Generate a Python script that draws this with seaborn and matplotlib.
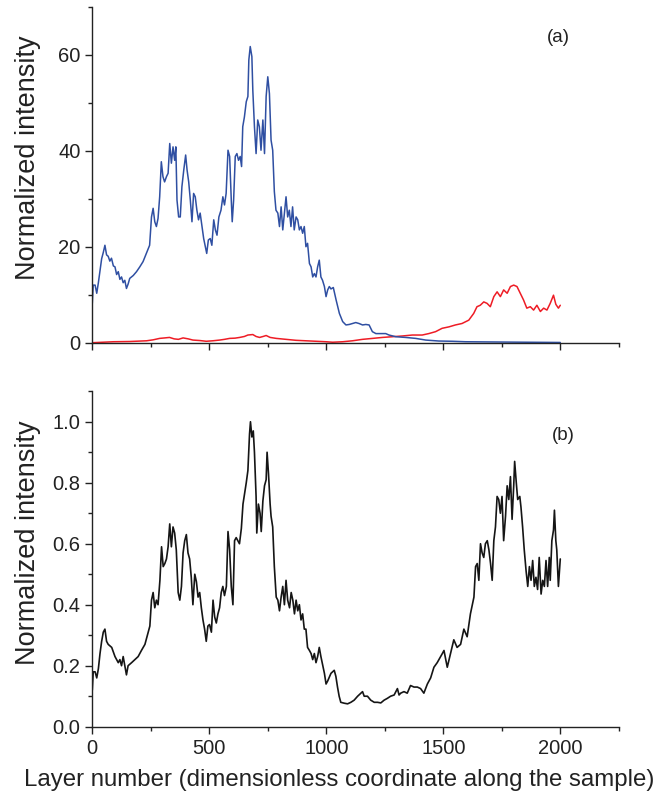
import numpy as np
import pandas as pd
import matplotlib
matplotlib.use("Agg")
import matplotlib.pyplot as plt
from matplotlib.ticker import MultipleLocator, FormatStrFormatter
import seaborn as sns

# ---------------- data ----------------
blue_layer = [0, 4, 12, 19, 26, 33, 40, 47, 54, 61, 68, 75, 82, 90, 97, 104, 111, 118, 125, 132,
              139, 146, 153, 160, 175, 189, 203, 217, 231, 245, 253, 260, 267, 274, 281, 288, 295,
              302, 309, 317, 324, 331, 338, 345, 352, 357, 362, 369, 376, 383, 391, 399, 405, 412,
              419, 426, 433, 440, 447, 454, 461, 469, 476, 483, 489, 496, 504, 511, 519, 526, 533,
              541, 550, 558, 565, 572, 580, 587, 594, 598, 604, 611, 618, 625, 632, 638, 643, 650,
              658, 665, 669, 675, 682, 686, 693, 700, 707, 714, 721, 729, 736, 743, 750, 757, 764,
              771, 778, 785, 793, 800, 807, 814, 821, 828, 835, 842, 849, 856, 863, 871, 878, 885,
              892, 899, 906, 913, 920, 928, 935, 942, 949, 956, 963, 970, 977, 984, 992, 999, 1006,
              1013, 1020, 1030, 1042, 1056, 1070, 1084, 1098, 1112, 1126, 1140, 1155, 1169, 1183,
              1197, 1212, 1226, 1254, 1268, 1297, 1339, 1382, 1425, 1481, 1538, 1595, 1700, 1800,
              1900, 2000]
blue_value = [8.2, 12.0, 12.0, 10.3, 12.5, 15.0, 17.5, 18.8, 20.3, 18.3, 18.0, 17.0, 17.6, 16.0,
              15.8, 14.2, 14.8, 13.2, 13.7, 12.5, 13.0, 11.3, 12.2, 13.4, 14.0, 14.8, 15.8, 16.9,
              18.6, 20.3, 26.2, 28.0, 25.2, 24.2, 25.9, 30.4, 37.7, 34.6, 33.5, 34.6, 35.3, 41.5,
              37.4, 40.8, 38.0, 40.8, 29.7, 26.2, 26.2, 32.5, 36.0, 39.1, 36.0, 33.5, 29.7, 25.2,
              31.1, 30.4, 27.6, 25.6, 27.0, 24.2, 21.7, 20.0, 18.6, 21.4, 21.7, 20.3, 25.6, 23.5,
              22.4, 26.2, 27.6, 30.4, 28.7, 31.1, 40.1, 38.8, 29.7, 25.2, 29.7, 38.8, 39.4, 38.0,
              38.8, 36.7, 45.0, 47.0, 50.2, 51.3, 58.9, 61.7, 59.6, 52.6, 45.0, 39.4, 46.4, 45.0,
              40.1, 46.4, 39.4, 51.3, 55.4, 51.9, 42.2, 40.1, 31.5, 27.6, 27.0, 24.2, 28.3, 23.5,
              27.0, 30.4, 26.2, 27.6, 24.2, 28.3, 23.5, 26.2, 25.6, 23.5, 24.2, 22.8, 24.2, 20.0,
              20.7, 16.5, 15.8, 13.7, 14.4, 13.7, 15.8, 17.2, 13.7, 13.0, 11.7, 9.6, 11.0, 11.7,
              11.2, 11.5, 8.9, 6.1, 4.4, 3.7, 3.8, 4.0, 4.2, 4.0, 3.7, 3.8, 3.7, 2.3, 1.9, 1.9, 1.9,
              1.6, 1.25, 1.1, 0.9, 0.55, 0.35, 0.3, 0.2, 0.15, 0.12, 0.08, 0.05]

red_layer = [0, 45, 90, 160, 232, 260, 288, 310, 330, 350, 368, 388, 410, 430, 460, 487, 515, 544,
             565, 587, 610, 630, 650, 665, 686, 700, 715, 730, 743, 760, 786, 828, 870, 913, 956,
             999, 1027, 1070, 1112, 1155, 1198, 1240, 1283, 1325, 1368, 1410, 1438, 1467, 1495,
             1524, 1552, 1580, 1609, 1630, 1644, 1658, 1673, 1687, 1701, 1716, 1730, 1744, 1758,
             1773, 1787, 1801, 1815, 1829, 1843, 1857, 1872, 1886, 1900, 1915, 1929, 1943, 1957,
             1971, 1981, 1992, 2000]
red_value = [0.0, 0.1, 0.2, 0.25, 0.4, 0.6, 0.9, 1.0, 1.1, 0.8, 0.7, 1.0, 0.8, 0.55, 0.45, 0.3,
             0.4, 0.55, 0.7, 0.9, 0.95, 1.1, 1.3, 1.6, 1.7, 1.3, 1.1, 1.3, 1.5, 1.1, 0.9, 0.7, 0.5,
             0.4, 0.3, 0.2, 0.1, 0.2, 0.4, 0.7, 0.9, 1.1, 1.25, 1.4, 1.6, 1.6, 1.9, 2.3, 3.0, 3.3,
             3.7, 4.0, 4.7, 6.1, 7.5, 7.8, 8.5, 8.2, 7.5, 9.6, 10.6, 9.6, 11.0, 10.3, 11.7, 12.0,
             11.7, 10.3, 8.9, 7.2, 7.5, 6.8, 7.8, 6.5, 7.2, 6.8, 8.2, 9.9, 8.0, 7.2, 7.8]

black_layer = [0, 4, 12, 19, 26, 33, 40, 47, 54, 61, 68, 83, 97, 111, 118, 125, 132, 139, 146, 153,
               168, 182, 196, 210, 225, 239, 246, 253, 260, 267, 274, 281, 289, 296, 303, 310, 317,
               324, 331, 338, 345, 352, 359, 367, 374, 381, 388, 395, 402, 409, 416, 423, 430, 438,
               445, 452, 459, 466, 473, 480, 487, 494, 501, 509, 516, 523, 530, 537, 544, 551, 558,
               565, 573, 580, 587, 594, 601, 608, 615, 622, 629, 637, 644, 651, 658, 665, 672, 676,
               682, 688, 693, 700, 703, 710, 717, 722, 729, 736, 743, 747, 753, 760, 764, 771, 778,
               786, 793, 800, 807, 814, 821, 828, 835, 843, 850, 857, 864, 871, 878, 885, 892, 899,
               906, 913, 920, 928, 935, 942, 949, 956, 963, 970, 977, 985, 992, 999, 1006, 1020,
               1034, 1041, 1048, 1055, 1062, 1077, 1091, 1105, 1119, 1134, 1148, 1155, 1162, 1176,
               1190, 1205, 1219, 1233, 1247, 1261, 1275, 1290, 1304, 1311, 1318, 1332, 1346, 1360,
               1375, 1389, 1403, 1417, 1432, 1446, 1460, 1474, 1489, 1496, 1503, 1517, 1531, 1545,
               1559, 1574, 1588, 1602, 1616, 1631, 1638, 1645, 1652, 1659, 1666, 1673, 1680, 1688,
               1695, 1702, 1709, 1716, 1723, 1730, 1737, 1744, 1751, 1758, 1766, 1773, 1780, 1787,
               1794, 1801, 1805, 1812, 1818, 1827, 1832, 1839, 1846, 1854, 1861, 1868, 1875, 1882,
               1889, 1896, 1903, 1910, 1918, 1925, 1932, 1939, 1946, 1953, 1957, 1964, 1971, 1975,
               1981, 1985, 1992, 2000]
black_value = [0.12, 0.18, 0.18, 0.16, 0.19, 0.24, 0.28, 0.31, 0.32, 0.28, 0.27, 0.26, 0.23, 0.21,
               0.22, 0.20, 0.23, 0.20, 0.17, 0.20, 0.21, 0.22, 0.23, 0.25, 0.27, 0.31, 0.33, 0.415,
               0.44, 0.39, 0.415, 0.40, 0.48, 0.59, 0.525, 0.535, 0.55, 0.59, 0.665, 0.59, 0.655,
               0.635, 0.58, 0.44, 0.415, 0.46, 0.57, 0.61, 0.63, 0.57, 0.55, 0.49, 0.40, 0.50, 0.475,
               0.425, 0.44, 0.39, 0.35, 0.32, 0.28, 0.33, 0.335, 0.31, 0.415, 0.36, 0.34, 0.37, 0.39,
               0.44, 0.46, 0.43, 0.46, 0.64, 0.58, 0.46, 0.40, 0.61, 0.62, 0.61, 0.60, 0.65, 0.73,
               0.765, 0.80, 0.84, 0.96, 1.0, 0.95, 0.97, 0.90, 0.755, 0.635, 0.73, 0.70, 0.64, 0.74,
               0.79, 0.81, 0.90, 0.83, 0.73, 0.69, 0.655, 0.525, 0.425, 0.415, 0.38, 0.425, 0.46,
               0.40, 0.48, 0.415, 0.39, 0.44, 0.415, 0.37, 0.415, 0.38, 0.40, 0.35, 0.37, 0.32, 0.32,
               0.26, 0.25, 0.24, 0.22, 0.24, 0.21, 0.23, 0.26, 0.23, 0.20, 0.175, 0.14, 0.15, 0.175,
               0.185, 0.165, 0.13, 0.10, 0.08, 0.077, 0.075, 0.08, 0.087, 0.10, 0.11, 0.115, 0.10,
               0.10, 0.087, 0.08, 0.08, 0.078, 0.087, 0.093, 0.10, 0.104, 0.125, 0.104, 0.11, 0.115,
               0.11, 0.135, 0.13, 0.13, 0.125, 0.11, 0.14, 0.16, 0.195, 0.21, 0.23, 0.24, 0.25,
               0.195, 0.24, 0.285, 0.26, 0.27, 0.32, 0.295, 0.37, 0.425, 0.525, 0.535, 0.48, 0.60,
               0.57, 0.555, 0.60, 0.61, 0.58, 0.535, 0.48, 0.61, 0.655, 0.755, 0.745, 0.70, 0.755,
               0.61, 0.69, 0.79, 0.745, 0.82, 0.68, 0.79, 0.87, 0.80, 0.745, 0.755, 0.72, 0.655,
               0.58, 0.51, 0.46, 0.525, 0.48, 0.545, 0.46, 0.49, 0.45, 0.555, 0.435, 0.48, 0.46,
               0.545, 0.46, 0.555, 0.48, 0.61, 0.645, 0.71, 0.61, 0.58, 0.46, 0.55]

x_major_ticks = [0, 500, 1000, 1500, 2000]
top_y_ticks = [0, 20, 40, 60]
bottom_y_ticks = [0.0, 0.2, 0.4, 0.6, 0.8, 1.0]
y_label = "Normalized intensity"
x_label = "Layer number (dimensionless coordinate along the sample)"
panel_a = "(a)"
panel_b = "(b)"

# ---------------- style ----------------
sns.set_theme(style="ticks")
plt.rcParams["font.family"] = ["Liberation Sans", "DejaVu Sans"]
plt.rcParams["axes.linewidth"] = 1.0
plt.rcParams["axes.edgecolor"] = "#222222"

BLUE = "#2f4fa2"
RED = "#ee1c25"
BLACK = "#151515"
TEXT = "#222222"
TICK_FS = 14.5
YLABEL_FS = 19.5
XLABEL_FS = 17.3

fig = plt.figure(figsize=(6.63, 7.97), dpi=100)
ax_a = fig.add_axes([0.1392, 0.570, 0.7941, 0.4216])
ax_b = fig.add_axes([0.1392, 0.0882, 0.7941, 0.4209])

df_blue = pd.DataFrame({"layer": blue_layer, "value": blue_value})
df_red = pd.DataFrame({"layer": red_layer, "value": red_value})
df_black = pd.DataFrame({"layer": black_layer, "value": black_value})

sns.lineplot(data=df_red, x="layer", y="value", ax=ax_a, color=RED, lw=1.1, estimator=None)
sns.lineplot(data=df_blue, x="layer", y="value", ax=ax_a, color=BLUE, lw=1.1, estimator=None)
sns.lineplot(data=df_black, x="layer", y="value", ax=ax_b, color=BLACK, lw=1.2, estimator=None)

for ax in (ax_a, ax_b):
    ax.set_xlim(0, 2250)
    ax.xaxis.set_major_locator(MultipleLocator(500))
    ax.xaxis.set_minor_locator(MultipleLocator(250))
    ax.spines["top"].set_visible(False)
    ax.spines["right"].set_visible(False)
    ax.tick_params(which="major", direction="out", length=5, width=1.0, colors=TEXT,
                   labelsize=TICK_FS, labelcolor=TEXT)
    ax.tick_params(which="minor", direction="out", length=3, width=1.0, colors=TEXT)
    ax.set_ylabel(y_label, fontsize=YLABEL_FS, color=TEXT)
    ax.yaxis.set_label_coords(-0.098, 0.55)
    ax.set_xlabel("")

ax_a.set_ylim(0, 70)
ax_a.set_yticks(top_y_ticks)
ax_a.yaxis.set_minor_locator(MultipleLocator(10))
ax_a.set_xticks(x_major_ticks)
ax_a.tick_params(axis="x", labelbottom=False)
ax_a.text(1993, 63.5, panel_a, fontsize=13.5, ha="center", va="center", color=TEXT)

ax_b.set_ylim(0, 1.1)
ax_b.set_yticks(bottom_y_ticks)
ax_b.yaxis.set_major_formatter(FormatStrFormatter("%.1f"))
ax_b.yaxis.set_minor_locator(MultipleLocator(0.1))
ax_b.set_xticks(x_major_ticks)
ax_b.text(2013, 0.955, panel_b, fontsize=13.5, ha="center", va="center", color=TEXT)

fig.text(339 / 663, 1 - 780 / 797, x_label, fontsize=XLABEL_FS, color=TEXT,
         ha="center", va="center")

fig.savefig("out.png", dpi=100)
